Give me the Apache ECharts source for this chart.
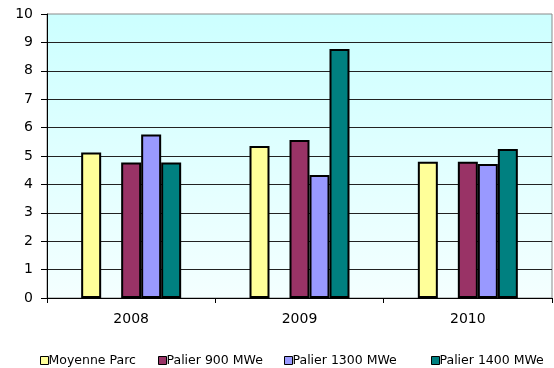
<!DOCTYPE html>
<html>
<head>
<meta charset="utf-8">
<script src="https://cdn.jsdelivr.net/npm/echarts@6/dist/echarts.min.js"></script>
<style>
  html, body { margin: 0; padding: 0; background: #fff; }
  #chart { width: 554px; height: 368px; }
</style>
</head>
<body>
<div id="chart"></div>
<script>
// Annual values per reactor fleet segment
const categories = ['2008', '2009', '2010'];
const moyenneParc = [5.12, 5.35, 4.8];
const palier900 = [4.77, 5.56, 4.8];
const palier1300 = [5.76, 4.33, 4.72];
const palier1400 = [4.77, 8.77, 5.25];
const yTicks = { min: 0, max: 10, step: 1 };

const FONT = 'DejaVu Sans';
const seriesNames = ['Moyenne Parc', 'Palier 900 MWe', 'Palier 1300 MWe', 'Palier 1400 MWe'];
const seriesColors = ['#ffff99', '#993366', '#9999ff', '#008080'];
const legendLeft = [35, 153, 279, 426];

const chart = echarts.init(document.getElementById('chart'), null, { renderer: 'canvas' });

function barSeries(i, data) {
  return {
    name: seriesNames[i],
    type: 'bar',
    data: data,
    barGap: 0,
    barCategoryGap: '40.6%',
    itemStyle: { color: seriesColors[i], borderColor: '#000', borderWidth: 2 }
  };
}

chart.setOption({
  animation: false,
  backgroundColor: '#fff',
  textStyle: { fontFamily: FONT },
  grid: {
    left: 47, right: 2, top: 14, bottom: 70,
    show: true,
    borderColor: '#8a8a8a',
    borderWidth: 1,
    backgroundColor: {
      type: 'linear', x: 0, y: 0, x2: 0, y2: 1,
      colorStops: [
        { offset: 0, color: '#ccffff' },
        { offset: 1, color: '#f4ffff' }
      ]
    }
  },
  // one legend block per series so each entry sits at its own column
  legend: seriesNames.map((name, i) => ({
    left: legendLeft[i], top: 349,
    itemWidth: 8, itemHeight: 8,
    icon: 'rect',
    textStyle: { fontFamily: FONT, fontSize: 12.5, color: '#000', padding: [0, 0, 0, -5] },
    data: [name],
    itemStyle: { borderColor: '#000', borderWidth: 1 }
  })),
  xAxis: {
    type: 'category',
    data: categories,
    axisLine: { lineStyle: { color: '#000', width: 1 } },
    axisTick: { show: true, length: 5, lineStyle: { color: '#000' } },
    axisLabel: { fontFamily: FONT, fontSize: 14, color: '#000', margin: 14 }
  },
  yAxis: {
    type: 'value',
    min: yTicks.min, max: yTicks.max, interval: yTicks.step,
    axisLine: { show: true, lineStyle: { color: '#000', width: 1 } },
    axisTick: { show: true, length: 6, lineStyle: { color: '#000' } },
    axisLabel: { fontFamily: FONT, fontSize: 14, color: '#000', margin: 14 },
    splitLine: { show: true, showMaxLine: false, lineStyle: { color: '#222', width: 1 } }
  },
  series: [
    barSeries(0, moyenneParc),
    // empty slot between the fleet average and the first segment
    { name: 'spacer', type: 'bar', data: categories.map(() => null), barGap: 0, barCategoryGap: '40.6%' },
    barSeries(1, palier900),
    barSeries(2, palier1300),
    barSeries(3, palier1400)
  ]
});
</script>
</body>
</html>
